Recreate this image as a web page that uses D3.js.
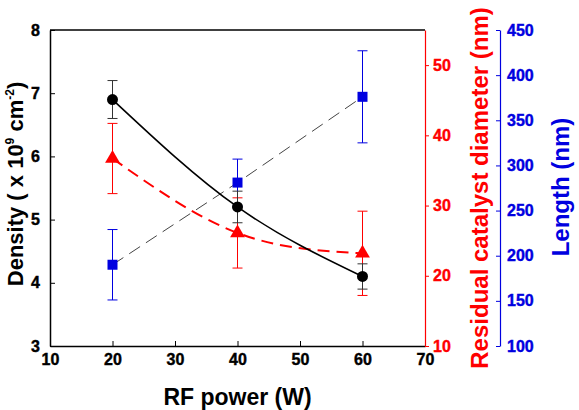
<!DOCTYPE html>
<html>
<head>
<meta charset="utf-8">
<script src="https://d3js.org/d3.v7.min.js"></script>
<style>
  body { margin: 0; background: #fff; }
  svg { display: block; font-family: 'Liberation Sans', Arial, sans-serif; font-weight: bold; }
  svg text { font-weight: bold; }
</style>
</head>
<body>
<script>
// RF power (W)
const power = [20, 40, 60]
// density (x 10^9 cm^-2), black circles
const density = [6.9, 5.2, 4.1]
const densityErr = [0.3, 0.25, 0.2]
// residual catalyst diameter (nm), red triangles
const diameter = [36.7, 26.1, 23.2]
const diameterErr = [5, 5, 6]
// length (nm), blue squares
const lengthNm = [190, 281, 376]
const lengthErr = [39, 26, 51]

const xTicks = [10, 20, 30, 40, 50, 60, 70]
const densityTicks = [3, 4, 5, 6, 7, 8]
const diameterTicks = [10, 20, 30, 40, 50]
const lengthTicks = [100, 150, 200, 250, 300, 350, 400, 450]

const W = 579
const H = 410
const plotL = 50, plotR = 425, plotT = 30, plotB = 346
const red = '#ff0000'
const blue = '#0000e0'
const tickFont = 16

const svg = d3.select('body').append('svg')
  .attr('width', W)
  .attr('height', H)

const x = d3.scaleLinear().domain([10, 70]).range([plotL, plotR])
const yD = d3.scaleLinear().domain([3, 8]).range([plotB, plotT])
const yR = d3.scaleLinear().domain([10, 55]).range([plotB, plotT])
const yL = d3.scaleLinear().domain([100, 450]).range([plotB, plotT])

// let axis text inherit the svg font, a bit heavier
function plain (g) {
  g.attr('font-family', null).attr('font-size', null)
  g.selectAll('text')
    .attr('font-weight', 'bold').attr('font-size', tickFont)
    .attr('stroke', 'currentColor').attr('stroke-width', 0.4)
}

// frame: top line
svg.append('line')
  .attr('x1', plotL).attr('x2', plotR).attr('y1', plotT).attr('y2', plotT)
  .attr('stroke', '#000').attr('stroke-width', 1.5)

// bottom axis, ticks inward
const gx = svg.append('g')
  .attr('transform', `translate(0,${plotB})`)
  .call(d3.axisBottom(x).tickValues(xTicks).tickFormat(d3.format('d'))
    .tickSizeInner(-5).tickSizeOuter(0).tickPadding(8))
  .call(plain)
gx.select('.domain').attr('stroke-width', 1.5)

// left axis, ticks inward
const gy = svg.append('g')
  .attr('transform', `translate(${plotL},0)`)
  .call(d3.axisLeft(yD).tickValues(densityTicks).tickFormat(d3.format('d'))
    .tickSizeInner(-5).tickSizeOuter(0).tickPadding(10))
  .call(plain)
gy.select('.domain').attr('stroke-width', 1.5)

// red axis
const gr = svg.append('g')
  .attr('color', red)
  .attr('transform', `translate(${plotR},0)`)
  .call(d3.axisRight(yR).tickValues(diameterTicks).tickFormat(d3.format('d'))
    .tickSize(4).tickSizeOuter(0).tickPadding(4))
  .call(plain)
gr.select('.domain').attr('stroke-width', 1.2)

// blue axis, ticks to the left, labels on the right
const gb = svg.append('g')
  .attr('color', blue)
  .attr('transform', `translate(500,0)`)
  .call(d3.axisRight(yL).tickValues(lengthTicks).tickFormat(d3.format('d'))
    .tickSizeInner(-4).tickSizeOuter(0).tickPadding(7))
  .call(plain)
gb.select('.domain').attr('stroke-width', 1.2)

// axis titles
svg.append('text')
  .attr('x', (plotL + plotR) / 2).attr('y', 405)
  .attr('text-anchor', 'middle').attr('font-size', 23)
  .text('RF power (W)')

const dt = svg.append('text')
  .attr('transform', `translate(23,184) rotate(-90)`)
  .attr('text-anchor', 'middle').attr('font-size', 22)
dt.append('tspan').text('Density ( x 10')
dt.append('tspan').attr('font-size', 12).attr('dy', -9).text('9')
dt.append('tspan').attr('dy', 9).text(' cm')
dt.append('tspan').attr('font-size', 12).attr('dy', -9).text('-2')
dt.append('tspan').attr('dy', 9).text(')')

svg.append('text')
  .attr('transform', `translate(488,188) rotate(-90)`)
  .attr('text-anchor', 'middle').attr('font-size', 24).attr('fill', red)
  .text('Residual catalyst diameter (nm)')

svg.append('text')
  .attr('transform', `translate(569,187) rotate(-90)`)
  .attr('text-anchor', 'middle').attr('font-size', 24).attr('fill', blue)
  .text('Length (nm)')

// lines
const idx = d3.range(power.length)

svg.append('path')
  .attr('fill', 'none').attr('stroke', '#444').attr('stroke-width', 1)
  .attr('stroke-dasharray', '13,7')
  .attr('d', d3.line().x(i => x(power[i])).y(i => yL(lengthNm[i]))(idx))

svg.append('path')
  .attr('fill', 'none').attr('stroke', red).attr('stroke-width', 2)
  .attr('stroke-dasharray', '12,7')
  .attr('d', d3.line().curve(d3.curveNatural).x(i => x(power[i])).y(i => yR(diameter[i]))(idx))

svg.append('path')
  .attr('fill', 'none').attr('stroke', '#000').attr('stroke-width', 1.6)
  .attr('d', d3.line().curve(d3.curveNatural).x(i => x(power[i])).y(i => yD(density[i]))(idx))

// error bars
function errorBars (vals, errs, scale, color) {
  const g = svg.append('g').attr('stroke', color).attr('stroke-width', 1)
  idx.forEach(i => {
    const cx = x(power[i])
    const y1 = scale(vals[i] + errs[i])
    const y2 = scale(vals[i] - errs[i])
    g.append('line').attr('x1', cx).attr('x2', cx).attr('y1', y1).attr('y2', y2)
    g.append('line').attr('x1', cx - 5).attr('x2', cx + 5).attr('y1', y1).attr('y2', y1)
    g.append('line').attr('x1', cx - 5).attr('x2', cx + 5).attr('y1', y2).attr('y2', y2)
  })
}
errorBars(lengthNm, lengthErr, yL, blue)
errorBars(diameter, diameterErr, yR, red)
errorBars(density, densityErr, yD, '#333')

// markers
svg.append('g').selectAll('rect').data(idx).join('rect')
  .attr('x', i => x(power[i]) - 5).attr('y', i => yL(lengthNm[i]) - 5)
  .attr('width', 10).attr('height', 10).attr('fill', blue)

svg.append('g').selectAll('path').data(idx).join('path')
  .attr('transform', i => `translate(${x(power[i])},${yR(diameter[i])})`)
  .attr('d', d3.symbol(d3.symbolTriangle, 95))
  .attr('fill', red)

svg.append('g').selectAll('circle').data(idx).join('circle')
  .attr('cx', i => x(power[i])).attr('cy', i => yD(density[i]))
  .attr('r', 5.5).attr('fill', '#000')
</script>
</body>
</html>
